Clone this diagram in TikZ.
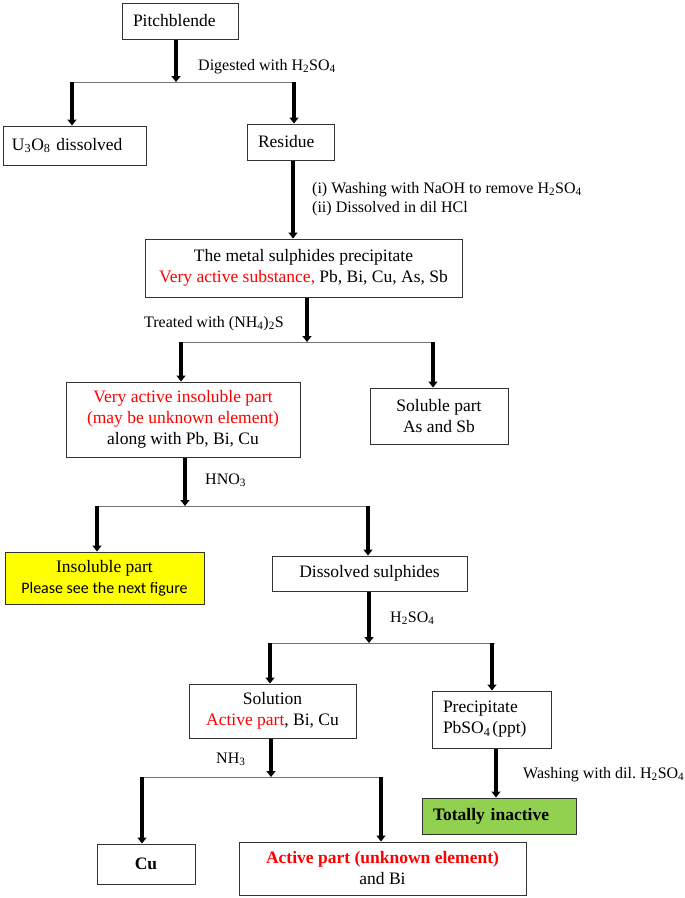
\documentclass[tikz,border=0pt]{standalone}
\usepackage{fontspec}
\setmainfont{Liberation Serif}
\newfontfamily\calibrifont{Carlito}
\usetikzlibrary{arrows.meta,calc}
\definecolor{myred}{RGB}{255,0,0}
\definecolor{myyellow}{RGB}{255,255,0}
\definecolor{mygreen}{RGB}{146,208,80}
\frenchspacing
\begin{document}
\begin{tikzpicture}[x=1pt,y=-1pt,
  box/.style={draw=black!80, line width=1pt, fill=white, inner sep=0pt,
    font=\fontsize{17.5}{21}\selectfont, align=center},
  arr/.style={line width=3.5pt, black, -{Triangle[width=9pt,length=6pt]}},
  hline/.style={line width=1pt, black!55},
  lbl/.style={font=\fontsize{16}{19}\selectfont, anchor=base west, inner sep=0pt}]
\useasboundingbox (0,0) rectangle (685,898);

% boxes
\node[box, minimum width=116, minimum height=36, text width=94, inner xsep=11, align=left] (pitch) at (180,21) {Pitchblende};
\node[box, minimum width=143, minimum height=39, text width=125, inner xsep=9, align=left] (u3o8) at (74.5,145.5) {U\textsubscript{3}O\textsubscript{8} dissolved};
\node[box, minimum width=87, minimum height=36, text width=65, inner xsep=11, align=left] (res) at (290.5,142) {Residue};
\node[box, minimum width=317, minimum height=58] (met) at (303.5,268) {The metal sulphides precipitate\\{\color{myred}Very active substance,} Pb, Bi, Cu, As, Sb};
\node[box, minimum width=234, minimum height=75] (vai) at (183,419.5) {{\color{myred}Very active insoluble part}\\{\color{myred}(may be unknown element)}\\along with Pb, Bi, Cu};
\node[box, minimum width=138, minimum height=56] (sol) at (439,416) {Soluble part\\As and Sb};
\node[box, fill=myyellow, minimum width=199, minimum height=52] (ins) at (104.5,578) {Insoluble part\\{\calibrifont\fontsize{16}{20}\selectfont Please see the next figure}};
\node[box, minimum width=195, minimum height=35] (dis) at (369.5,573.5) {Dissolved sulphides};
\node[box, minimum width=167, minimum height=54] (solu) at (272.5,711) {Solution\\{\color{myred}Active part}, Bi, Cu};
\node[box, minimum width=119, minimum height=57, text width=97, inner xsep=11, align=left] (prec) at (491.5,719.5) {Precipitate\\PbSO\textsubscript{4}\hspace{2pt}(ppt)};
\node[box, fill=mygreen, minimum width=154, minimum height=36, text width=132, inner xsep=11, align=left, font=\fontsize{17.5}{21}\selectfont\bfseries] (tot) at (499,816) {Totally inactive};
\node[box, minimum width=98, minimum height=40, font=\fontsize{17.5}{21}\selectfont\bfseries] (cu) at (146,864) {Cu};
\node[box, minimum width=287, minimum height=53] (act) at (382.5,868.5) {{\bfseries\color{myred}Active part (unknown element)}\\and Bi};

% junction coordinates
\coordinate (j1) at (176,82);  \coordinate (j1l) at (72,82);  \coordinate (j1r) at (294,82);
\coordinate (a2) at (293,200);
\coordinate (j3) at (307,342); \coordinate (j3l) at (181,342); \coordinate (j3r) at (433,342);
\coordinate (j4) at (185,506); \coordinate (j4l) at (97,506);  \coordinate (j4r) at (368,506);
\coordinate (j5) at (369,643); \coordinate (j5l) at (270,643); \coordinate (j5r) at (495,643);
\coordinate (j5a) at (492,643);
\coordinate (j6) at (271,777); \coordinate (j6l) at (142,777); \coordinate (j6r) at (381,777);
\coordinate (a7) at (496,770);

% connectors
\draw[hline] (j1l) -- (j1r);
\draw[arr] (pitch.south -| j1) -- (j1);
\draw[arr] (j1l) -- (u3o8.north -| j1l);
\draw[arr] (j1r) -- (res.north -| j1r);

\draw[arr] (res.south -| a2) -- (met.north -| a2);

\draw[hline] (j3l) -- (j3r);
\draw[arr] (met.south -| j3) -- (j3);
\draw[arr] (j3l) -- (vai.north -| j3l);
\draw[arr] (j3r) -- (sol.north -| j3r);

\draw[hline] (j4l) -- (j4r);
\draw[arr] (vai.south -| j4) -- (j4);
\draw[arr] (j4l) -- (ins.north -| j4l);
\draw[arr] (j4r) -- (dis.north -| j4r);

\draw[hline] (j5l) -- (j5r);
\draw[arr] (dis.south -| j5) -- (j5);
\draw[arr] (j5l) -- (solu.north -| j5l);
\draw[arr] (j5a) -- (prec.north -| j5a);

\draw[hline] (j6l) -- (j6r);
\draw[arr] (solu.south -| j6) -- (j6);
\draw[arr] (j6l) -- (cu.north -| j6l);
\draw[arr] (j6r) -- (act.north -| j6r);

\draw[arr] (prec.south -| a7) -- (tot.north -| a7);

% labels
\node[lbl] (l1) at (198,70) {Digested with H\textsubscript{2}SO\textsubscript{4}};
\node[lbl] (l2a) at (312,193) {(i) Washing with NaOH to remove H\textsubscript{2}SO\textsubscript{4}};
\node[lbl] (l2b) at (312,212) {(ii) Dissolved in dil HCl};
\node[lbl] (l3) at (144,327) {Treated with (NH\textsubscript{4})\textsubscript{2}S};
\node[lbl] (l4) at (205,484) {HNO\textsubscript{3}};
\node[lbl] (l5) at (390,622) {H\textsubscript{2}SO\textsubscript{4}};
\node[lbl] (l6) at (216,763) {NH\textsubscript{3}};
\node[lbl] (l7) at (523,778) {Washing with dil. H\textsubscript{2}SO\textsubscript{4}};
\end{tikzpicture}
\end{document}
